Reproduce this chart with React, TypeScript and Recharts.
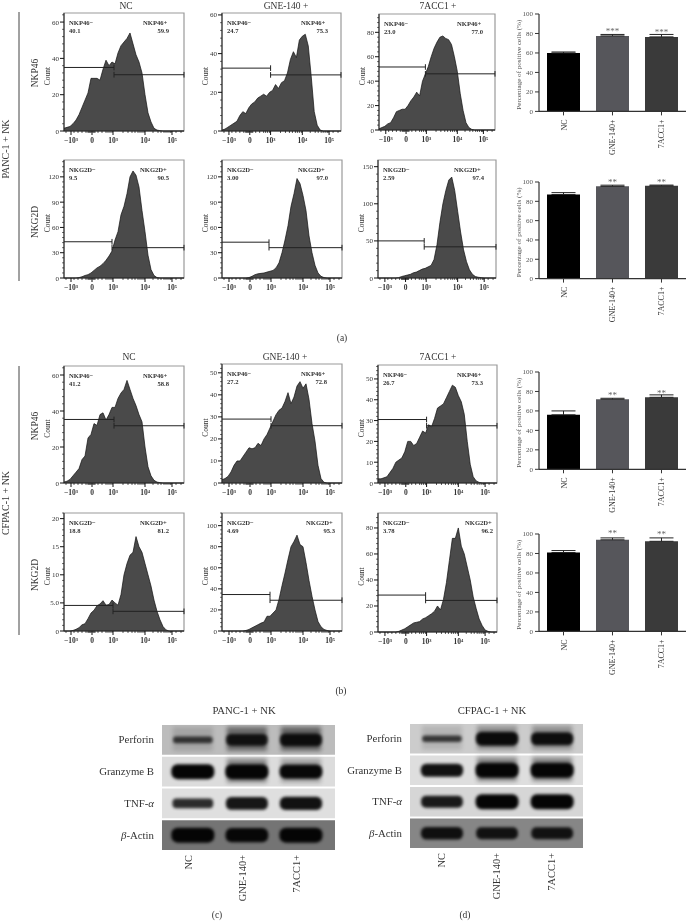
import {
  Area,
  AreaChart,
  Bar,
  BarChart,
  Cell,
  ErrorBar,
  LabelList,
  ReferenceArea,
  ReferenceLine,
  Scatter,
  ScatterChart,
  XAxis,
  YAxis,
} from "recharts";

const SERIF = "'Liberation Serif', serif";

// ── flow histograms: counts per 3-channel bin ───────────────────────────────

const channels = [
  0, 3, 6, 9, 12, 15, 18, 21, 24, 27, 30, 33, 36, 39, 42, 45, 48, 51, 54, 57, 60, 63, 66, 69, 72, 75, 78, 81, 84,
  87, 90, 93, 96, 99, 102, 105, 108, 111, 114, 117, 120,
];

const pancNkp46Nc = [1.5, 2, 2.5, 4, 6, 9, 13, 17, 21, 29, 29, 29, 28, 34, 39, 36, 38, 37, 43, 47, 49, 51, 54, 48, 42, 38, 32, 20, 10, 5, 1.5, 0.5, 0.2, 0, 0, 0, 0, 0, 0, 0, 0];
const pancNkp46Gne = [0.5, 1, 2, 3, 4, 5, 8, 10, 9, 12, 14, 15, 17, 18, 19, 18, 20, 21, 24, 22, 25, 26, 30, 37, 41, 38, 47, 49, 50, 44, 28, 10, 3, 0.5, 0, 0, 0, 0, 0, 0, 0];
const pancNkp46Acc = [1, 2, 3, 5, 6, 10, 15, 16, 17, 17, 20, 24, 27, 31, 28, 40, 46, 52, 60, 67, 72, 76, 77, 75, 74, 70, 60, 48, 30, 16, 6, 2, 0.5, 0, 0, 0, 0, 0, 0, 0, 0];
const pancNkg2dNc = [0, 0, 0, 0, 0, 0.5, 1.5, 3, 4, 6, 9, 12, 14, 17, 21, 26, 32, 45, 55, 75, 85, 100, 120, 127, 122, 108, 80, 55, 27, 10, 3, 0.5, 0, 0, 0, 0, 0, 0, 0, 0, 0];
const pancNkg2dGne = [0, 0, 0, 0, 0, 0, 0, 0, 0, 0.5, 2, 4, 5, 5.5, 6, 7, 8, 9, 12, 18, 30, 45, 62, 85, 100, 118, 112, 98, 80, 50, 30, 15, 6, 2, 0.5, 0, 0, 0, 0, 0, 0];
const pancNkg2dAcc = [0, 0, 0, 0, 0, 0, 0, 0.5, 2, 3, 4, 5, 7, 8, 10, 12, 13, 15, 17, 25, 45, 75, 100, 118, 132, 136, 118, 90, 62, 38, 22, 11, 5, 2, 1, 0.5, 0, 0, 0, 0, 0];
const cfpacNkp46Nc = [0.5, 1, 2, 4, 6, 8, 13, 15, 25, 27, 33, 32, 38, 39, 35, 38, 42, 42, 47, 50, 52, 57, 52, 47, 43, 38, 34, 20, 9, 4, 1.5, 0.5, 0.2, 0, 0, 0, 0, 0, 0, 0, 0];
const cfpacNkp46Gne = [1.5, 2, 3, 5, 8, 10, 10, 12, 14, 16, 15.5, 16, 18, 17, 20, 22, 25, 28, 31, 33, 34, 37, 41, 36, 39, 44, 46, 43, 45, 38, 27, 19, 8, 2, 0.3, 0, 0, 0, 0, 0, 0];
const cfpacNkp46Acc = [2, 2, 2.5, 3, 5, 7, 10, 11, 12, 15, 20, 20, 18, 19, 22, 25, 24, 28, 27, 31, 36, 37, 38, 41, 44, 47, 46, 42, 39, 33, 20, 9, 3, 1, 0.3, 0, 0, 0, 0, 0, 0];
const cfpacNkg2dNc = [0, 0, 0, 0.1, 0.3, 0.6, 1.1, 1.3, 2.2, 3.2, 3.7, 4.5, 4.8, 5.4, 4.6, 4.7, 5.5, 5, 4.6, 6.5, 10, 12, 13.5, 14, 16.8, 15, 14, 12, 10, 8, 5.5, 3.5, 2, 0.8, 0.2, 0, 0, 0, 0, 0, 0];
const cfpacNkg2dGne = [0, 0, 0, 0, 0, 0, 0, 0, 0.5, 1.5, 3, 4.5, 6, 7.5, 8.5, 14, 14, 17, 20, 30, 43, 55, 68, 80, 85, 91, 82, 80, 65, 48, 33, 20, 9, 4, 1.5, 0.5, 0, 0, 0, 0, 0];
const cfpacNkg2dAcc = [0, 0, 0, 0, 0, 0, 0, 0.5, 1.5, 2.5, 4, 5.5, 7, 7.5, 8, 10, 11, 12.5, 14, 16, 20, 17, 25, 38, 55, 72, 72, 80, 66, 60, 50, 40, 27, 18, 10, 5, 1.5, 0.5, 0, 0, 0];

const axisChannels = [7, 28, 49, 81, 108];
const axisLabels = ["−10³", "0", "10³", "10⁴", "10⁵"];
const minorChannels = [
  2, 10, 14, 18, 22, 24, 25, 26, 27, 29, 30, 31, 34, 38, 42, 44, 46, 48, 59, 64, 68, 71, 74, 76, 78, 80, 89, 94, 97,
  100, 102, 104, 106, 107, 112, 117,
];

// ── bars ────────────────────────────────────────────────────────────────────

const groups = ["NC", "GNE-140+", "7ACC1+"];
const groupColors = ["#000000", "#56565b", "#3a3a3a"];
const pancNkp46Pct = [60, 77.5, 76.5];
const pancNkp46Err = [1, 1.5, 2.5];
const pancNkg2dPct = [87, 95.5, 96];
const pancNkg2dErr = [2, 1.2, 0.8];
const cfpacNkp46Pct = [56, 72, 74];
const cfpacNkp46Err = [4, 1, 2.5];
const cfpacNkg2dPct = [81, 94, 92.5];
const cfpacNkg2dErr = [2, 2, 3.5];
const pctTicks = [0, 20, 40, 60, 80, 100];

// ── blots ───────────────────────────────────────────────────────────────────

const blotRows = ["Perforin", "Granzyme B", "TNF-α", "β-Actin"];
const blotLanes = ["NC", "GNE-140+", "7ACC1+"];
const bandsPanc = [
  [0.3, 0.72, 0.8],
  [1, 1, 0.95],
  [0.55, 0.8, 0.85],
  [1, 0.95, 1],
];
const smearPanc = [
  [0.2, 0.7, 0.75],
  [0, 0.6, 0.4],
  [0, 0, 0],
  [0, 0, 0],
];
const tonesPanc = ["#bcbcbc", "#dcdcdc", "#dfdfdf", "#747474"];
const bandsCfpac = [
  [0.3, 0.9, 0.85],
  [0.85, 1, 1],
  [0.75, 1, 1],
  [0.8, 0.75, 0.75],
];
const smearCfpac = [
  [0.18, 0.45, 0.45],
  [0, 0.6, 0.6],
  [0, 0, 0],
  [0, 0, 0],
];
const tonesCfpac = ["#cccccc", "#dedede", "#d6d6d6", "#868686"];

// ── panel layout ────────────────────────────────────────────────────────────

interface FlowPanel {
  counts: number[];
  left: number;
  top: number;
  width: number;
  height: number;
  yMax: number;
  yTicks: number[];
  negGate: number[];
  posGate: number[];
  marker: string;
  negPct: string;
  posPct: string;
  posX: number;
  posEnd: number;
}

const flowPanels: FlowPanel[] = [
  { counts: pancNkp46Nc, left: 64, top: 13, width: 120, height: 118, yMax: 65, yTicks: [0, 20, 40, 60], negGate: [50, 35], posGate: [50, 31], marker: "NKP46", negPct: "40.1", posPct: "59.9", posX: 79, posEnd: 105 },
  { counts: pancNkp46Gne, left: 222, top: 13, width: 119, height: 118, yMax: 61, yTicks: [0, 20, 40, 60], negGate: [49, 32.5], posGate: [49, 29], marker: "NKP46", negPct: "24.7", posPct: "75.3", posX: 79, posEnd: 106 },
  { counts: pancNkp46Acc, left: 379, top: 14, width: 116, height: 116, yMax: 95, yTicks: [0, 20, 40, 60, 80], negGate: [48, 51.6], posGate: [48, 46], marker: "NKP46", negPct: "23.0", posPct: "77.0", posX: 78, posEnd: 104 },
  { counts: pancNkg2dNc, left: 64, top: 160, width: 120, height: 118, yMax: 140, yTicks: [0, 30, 60, 90, 120], negGate: [48, 43], posGate: [48, 36], marker: "NKG2D", negPct: "9.5", posPct: "90.5", posX: 76, posEnd: 105 },
  { counts: pancNkg2dGne, left: 222, top: 160, width: 120, height: 118, yMax: 140, yTicks: [0, 30, 60, 90, 120], negGate: [47, 42.5], posGate: [47, 36], marker: "NKG2D", negPct: "3.00", posPct: "97.0", posX: 76, posEnd: 106 },
  { counts: pancNkg2dAcc, left: 378, top: 160, width: 118, height: 118, yMax: 159, yTicks: [0, 50, 100, 150], negGate: [47, 50], posGate: [47, 42], marker: "NKG2D", negPct: "2.59", posPct: "97.4", posX: 76, posEnd: 106 },
  { counts: cfpacNkp46Nc, left: 64, top: 366, width: 120, height: 117, yMax: 65, yTicks: [0, 20, 40, 60], negGate: [50, 35.3], posGate: [50, 31.8], marker: "NKP46", negPct: "41.2", posPct: "58.8", posX: 79, posEnd: 105 },
  { counts: cfpacNkp46Gne, left: 222, top: 364, width: 120, height: 119, yMax: 54, yTicks: [0, 10, 20, 30, 40, 50], negGate: [49, 29], posGate: [49, 26], marker: "NKP46", negPct: "27.2", posPct: "72.8", posX: 79, posEnd: 105 },
  { counts: cfpacNkp46Acc, left: 378, top: 365, width: 119, height: 118, yMax: 56.7, yTicks: [0, 10, 20, 30, 40, 50], negGate: [49, 30.5], posGate: [49, 27.5], marker: "NKP46", negPct: "26.7", posPct: "73.3", posX: 79, posEnd: 105 },
  { counts: cfpacNkg2dNc, left: 64, top: 513, width: 120, height: 118, yMax: 21, yTicks: [0, 5, 10, 15, 20], negGate: [49, 4.55], posGate: [49, 3.5], marker: "NKG2D", negPct: "18.8", posPct: "81.2", posX: 76, posEnd: 105 },
  { counts: cfpacNkg2dGne, left: 222, top: 513, width: 120, height: 118, yMax: 112, yTicks: [0, 20, 40, 60, 80, 100], negGate: [48, 34.6], posGate: [48, 29.2], marker: "NKG2D", negPct: "4.69", posPct: "95.3", posX: 84, posEnd: 113 },
  { counts: cfpacNkg2dAcc, left: 378, top: 513, width: 119, height: 119, yMax: 91.5, yTicks: [0, 20, 40, 60, 80], negGate: [48, 28.4], posGate: [48, 24.3], marker: "NKG2D", negPct: "3.78", posPct: "96.2", posX: 87, posEnd: 115 },
];

const barPanels = [
  { values: pancNkp46Pct, errs: pancNkp46Err, stars: "***", top: 14.3, bottom: 111.7, lift: 2 },
  { values: pancNkg2dPct, errs: pancNkg2dErr, stars: "**", top: 181.7, bottom: 278.3, lift: 1 },
  { values: cfpacNkp46Pct, errs: cfpacNkp46Err, stars: "**", top: 371.7, bottom: 469, lift: 1 },
  { values: cfpacNkg2dPct, errs: cfpacNkg2dErr, stars: "**", top: 534.3, bottom: 631.7, lift: 4 },
];

// ── FlowHistogram ───────────────────────────────────────────────────────────

function FlowXTick({ x = 0, y = 0, payload }: any) {
  const idx = axisChannels.indexOf(payload?.value);
  const major = idx >= 0;
  return (
    <g>
      <line x1={x} x2={x} y1={y - 8} y2={y - 8 + (major ? 4 : 2)} stroke="#111" strokeWidth={major ? 1 : 0.7} />
      {major && (
        <text x={x} y={y + 4} textAnchor="middle" fontSize={7.5} fontWeight={600} fontFamily={SERIF} fill="#333">
          {axisLabels[idx]}
        </text>
      )}
    </g>
  );
}

function FlowHistogram({ p }: { p: FlowPanel }) {
  const data = channels.map((ch, i) => ({ ch, count: p.counts[i] }));
  const step = p.yTicks[1] - p.yTicks[0];
  const yAll: number[] = [];
  for (let v = 0; v <= p.yMax; v += step / 5) yAll.push(Math.round(v * 100) / 100);
  const YTick = ({ x = 0, y = 0, payload }: any) => {
    const major = p.yTicks.includes(payload?.value);
    return (
      <g>
        <line x1={x + 8} x2={x + 8 - (major ? 4 : 2)} y1={y} y2={y} stroke="#111" strokeWidth={major ? 1 : 0.6} />
        {major && (
          <text x={x + 3} y={y + 2.5} textAnchor="end" fontSize={7} fontFamily={SERIF} fill="#333">
            {payload.value === 5 ? "5.0" : payload.value}
          </text>
        )}
      </g>
    );
  };
  const capY = p.yMax * 0.012;
  return (
    <div style={{ position: "absolute", left: p.left - 30, top: p.top - 2 }}>
      <AreaChart width={p.width + 32} height={p.height + 20} data={data} margin={{ top: 2, right: 2, left: 0, bottom: 0 }}>
        <ReferenceArea x1={0} x2={120} y1={0} y2={p.yMax} fill="none" stroke="#9a9a9a" strokeWidth={1.2} />
        <XAxis
          dataKey="ch"
          type="number"
          domain={[0, 120]}
          ticks={[...axisChannels, ...minorChannels].sort((a, b) => a - b)}
          interval={0}
          height={18}
          tickLine={false}
          tick={<FlowXTick />}
          axisLine={{ stroke: "#222", strokeWidth: 1 }}
        />
        <YAxis
          type="number"
          domain={[0, p.yMax]}
          ticks={yAll}
          interval={0}
          width={30}
          tickLine={false}
          tick={<YTick />}
          axisLine={{ stroke: "#222", strokeWidth: 1 }}
          label={{ value: "Count", angle: -90, position: "center", dx: -2, dy: 4, fontSize: 7.5, fontFamily: SERIF, fill: "#333" }}
        />
        <Area
          dataKey="count"
          type="linear"
          fill="#4a4a4a"
          fillOpacity={1}
          stroke="#111"
          strokeWidth={0.7}
          dot={false}
          activeDot={false}
          isAnimationActive={false}
        />
        <ReferenceLine segment={[{ x: 0, y: p.negGate[1] }, { x: p.negGate[0], y: p.negGate[1] }]} stroke="#222" strokeWidth={1} />
        <ReferenceLine segment={[{ x: p.negGate[0], y: p.negGate[1] - capY * 2 }, { x: p.negGate[0], y: p.negGate[1] + capY * 2 }]} stroke="#222" strokeWidth={1} />
        <ReferenceLine segment={[{ x: p.posGate[0], y: p.posGate[1] }, { x: 120, y: p.posGate[1] }]} stroke="#222" strokeWidth={1} />
        <ReferenceLine segment={[{ x: p.posGate[0], y: p.posGate[1] - capY * 2 }, { x: p.posGate[0], y: p.posGate[1] + capY * 2 }]} stroke="#222" strokeWidth={1} />
        <ReferenceLine segment={[{ x: 120, y: p.posGate[1] - capY * 2 }, { x: 120, y: p.posGate[1] + capY * 2 }]} stroke="#222" strokeWidth={1} />
      </AreaChart>
    </div>
  );
}

// ── PercentBars ─────────────────────────────────────────────────────────────

function GroupTick({ x = 0, y = 0, payload }: any) {
  return (
    <g>
      <line x1={x} x2={x} y1={y - 8} y2={y - 4} stroke="#333" strokeWidth={1} />
      <text transform={`translate(${x + 3},${y}) rotate(-90)`} textAnchor="end" fontSize={8} fontFamily={SERIF} fill="#333">
        {payload?.value}
      </text>
    </g>
  );
}

function PercentBars({ panel }: { panel: (typeof barPanels)[number] }) {
  const data = groups.map((name, i) => ({
    name,
    pct: panel.values[i],
    err: [0, panel.errs[i]],
    showStars: i === 0 ? "" : panel.stars,
  }));
  const h = panel.bottom - panel.top;
  return (
    <div style={{ position: "absolute", left: 509, top: panel.top - 10 }}>
      <BarChart width={177} height={h + 10 + 48} data={data} margin={{ top: 10, right: 0, left: 0, bottom: 0 }} barSize={33}>
        <XAxis dataKey="name" height={48} interval={0} tickLine={false} tick={<GroupTick />} axisLine={{ stroke: "#333", strokeWidth: 1.2 }} />
        <YAxis
          domain={[0, 100]}
          ticks={pctTicks}
          width={30}
          tick={{ fontSize: 7, fontFamily: SERIF, fill: "#555" }}
          tickSize={4}
          tickLine={{ stroke: "#333" }}
          axisLine={{ stroke: "#333", strokeWidth: 1.2 }}
          label={{ value: "Percentage of positive cells (%)", angle: -90, position: "center", dx: -6, dy: 2, fontSize: 7.1, fontFamily: SERIF, fill: "#555" }}
        />
        <Bar dataKey="pct" isAnimationActive={false}>
          {groupColors.map((c) => (
            <Cell key={c} fill={c} />
          ))}
          <ErrorBar dataKey="err" direction="y" width={12} stroke="#222" strokeWidth={1} isAnimationActive={false} />
          <LabelList dataKey="showStars" position="top" offset={panel.lift} fontSize={9} fontFamily={SERIF} fill="#666" />
        </Bar>
      </BarChart>
    </div>
  );
}

// ── WesternBlot ─────────────────────────────────────────────────────────────

function BandShape({ cx = 0, cy = 0, payload }: any) {
  const level = payload.level;
  const bh = 3 + 12 * level;
  const bw = 38 + 5 * level;
  return (
    <rect
      x={cx - bw / 2}
      y={cy - bh / 2}
      width={bw}
      height={bh}
      rx={bh / 2.4}
      fill="#050505"
      opacity={0.6 + 0.4 * level}
      style={{ filter: "blur(1.6px)" }}
    />
  );
}

function SmearShape({ cx = 0, cy = 0, payload }: any) {
  return (
    <rect x={cx - 20} y={cy - 13} width={40} height={24} fill="#222" opacity={payload.level * 0.75} style={{ filter: "blur(2px)" }} />
  );
}

function RowTick({ x = 0, y = 0, payload }: any) {
  const name = blotRows[Math.floor(payload?.value)] ?? "";
  const greek = name.match(/[αβ]/)?.[0];
  return (
    <text x={x} y={y + 3.5} textAnchor="end" fontSize={10.8} fontFamily={SERIF} fill="#333">
      {greek === "β" ? <tspan fontStyle="italic">β</tspan> : null}
      {greek ? name.replace(/[αβ]/, "") : name}
      {greek === "α" ? <tspan fontStyle="italic">α</tspan> : null}
    </text>
  );
}

function WesternBlot({ left, top, width, height, domain, bands, smear, tones, shift }: any) {
  const flat = (levels: number[][]) =>
    levels.flatMap((row, r) => row.map((level, l) => ({ lane: l + 0.5, row: r + 0.5, level })));
  const LaneTick = ({ x = 0, y = 0, payload }: any) => (
    <text
      transform={`translate(${x + shift},${y - 4}) rotate(-90)`}
      textAnchor="end"
      fontSize={10.4}
      fontFamily={SERIF}
      fill="#333"
    >
      {blotLanes[Math.floor(payload?.value)]}
    </text>
  );
  return (
    <div style={{ position: "absolute", left: left - 65, top }}>
      <ScatterChart width={width + 65} height={height + 60} margin={{ top: 0, right: 0, left: 0, bottom: 0 }}>
        <XAxis dataKey="lane" type="number" domain={domain} ticks={[0.5, 1.5, 2.5]} height={60} axisLine={false} tickLine={false} tick={<LaneTick />} />
        <YAxis dataKey="row" type="number" domain={[0, 4]} ticks={[0.5, 1.5, 2.5, 3.5]} reversed width={65} interval={0} axisLine={false} tickLine={false} tick={<RowTick />} />
        {tones.map((tone: string, r: number) => (
          <ReferenceArea key={r} x1={domain[0]} x2={domain[1]} y1={r + 0.03} y2={r + 0.97} fill={tone} fillOpacity={1} stroke="none" />
        ))}
        <Scatter data={flat(smear)} shape={<SmearShape />} isAnimationActive={false} />
        <Scatter data={flat(bands)} shape={<BandShape />} isAnimationActive={false} />
      </ScatterChart>
    </div>
  );
}

// ── App ─────────────────────────────────────────────────────────────────────

function Label({ x, y, size = 9.5, rotate, anchor = "middle", weight, fill = "#333", children }: any) {
  return (
    <text
      x={x}
      y={y}
      fontSize={size}
      fontWeight={weight}
      fontFamily={SERIF}
      fill={fill}
      textAnchor={anchor}
      transform={rotate ? `rotate(-90 ${x} ${y})` : undefined}
    >
      {children}
    </text>
  );
}

export default function App() {
  return (
    <div style={{ position: "absolute", left: 0, top: 0, width: 686, height: 922, overflow: "hidden", background: "#fff", filter: "blur(0.3px)" }}>
      {flowPanels.map((p, i) => (
        <FlowHistogram key={i} p={p} />
      ))}
      {barPanels.map((panel, i) => (
        <PercentBars key={i} panel={panel} />
      ))}
      <WesternBlot left={162} top={724} width={173} height={127} domain={[-0.07, 3.13]} bands={bandsPanc} smear={smearPanc} tones={tonesPanc} shift={-1} />
      <WesternBlot left={410} top={723} width={173} height={126} domain={[-0.08, 3.06]} bands={bandsCfpac} smear={smearCfpac} tones={tonesCfpac} shift={3} />
      <svg width={686} height={922} style={{ position: "absolute", left: 0, top: 0, pointerEvents: "none" }}>
        {flowPanels.map((p, i) => (
          <g key={i}>
            <Label x={p.left + 5} y={p.top + 11.5} size={6.6} weight={700} anchor="start" fill="#333">{p.marker}−</Label>
            <Label x={p.left + 5} y={p.top + 19.5} size={6.6} weight={700} anchor="start" fill="#333">{p.negPct}</Label>
            <Label x={p.left + p.posX} y={p.top + 11.5} size={6.6} weight={700} anchor="start" fill="#333">{p.marker}+</Label>
            <Label x={p.left + p.posEnd} y={p.top + 19.5} size={6.6} weight={700} anchor="end" fill="#333">{p.posPct}</Label>
          </g>
        ))}
        <Label x={126} y={9}>NC</Label>
        <Label x={286} y={9}>GNE-140 +</Label>
        <Label x={438} y={9}>7ACC1 +</Label>
        <Label x={129} y={360}>NC</Label>
        <Label x={285} y={360}>GNE-140 +</Label>
        <Label x={438} y={360}>7ACC1 +</Label>
        <Label x={38} y={73} rotate>NKP46</Label>
        <Label x={38} y={222} rotate>NKG2D</Label>
        <Label x={38} y={426} rotate>NKP46</Label>
        <Label x={38} y={575} rotate>NKG2D</Label>
        <Label x={9} y={149} size={10} rotate>PANC-1 + NK</Label>
        <Label x={9} y={503} size={10} rotate>CFPAC-1 + NK</Label>
        <line x1={19} x2={19} y1={12} y2={281} stroke="#444" strokeWidth={1} />
        <line x1={19} x2={19} y1={366} y2={635} stroke="#444" strokeWidth={1} />
        <Label x={342} y={341} size={9.5}>(a)</Label>
        <Label x={341} y={694} size={9.5}>(b)</Label>
        <Label x={244} y={714} size={10.7}>PANC-1 + NK</Label>
        <Label x={492} y={714} size={10.7}>CFPAC-1 + NK</Label>
        <Label x={217} y={918} size={9.5}>(c)</Label>
        <Label x={465} y={918} size={9.5}>(d)</Label>
      </svg>
    </div>
  );
}
